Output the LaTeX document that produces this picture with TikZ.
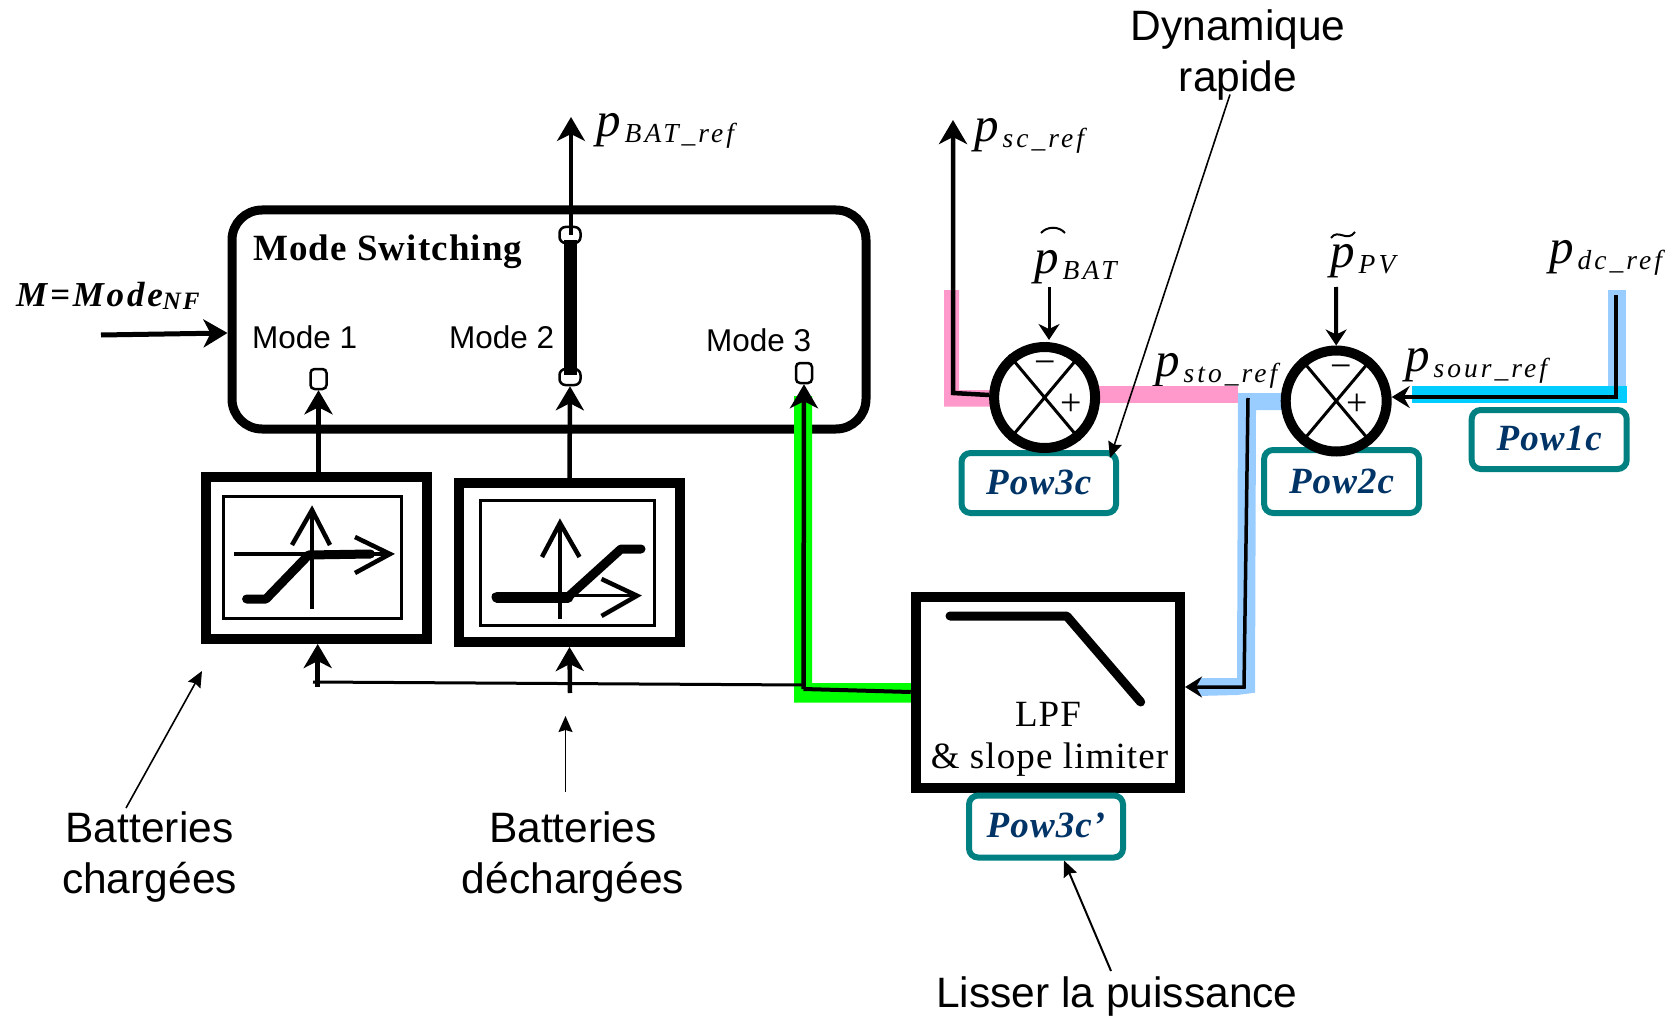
\documentclass[tikz,border=0pt]{standalone}
\usepackage{fontspec}
\usetikzlibrary{arrows.meta}
\setmainfont{Liberation Serif}
\newfontfamily\sansf{Liberation Sans}
\newfontfamily\spf[LetterSpace=3]{Liberation Serif}
\newfontfamily\subf[LetterSpace=11]{Liberation Serif}
\newcommand\psym[1]{{\fontsize{49}{49}\selectfont\itshape p}\kern4pt\raisebox{-6pt}{\fontsize{27.5}{27.5}\selectfont\subf\itshape #1}}
\definecolor{pinkbar}{HTML}{FF99CC}
\definecolor{bluebar}{HTML}{99CCFF}
\definecolor{cyanbar}{HTML}{00CCFF}
\definecolor{greenbar}{HTML}{00FF00}
\definecolor{tealbox}{HTML}{008080}
\definecolor{navytxt}{HTML}{003366}
\tikzset{
  x=1pt,y=-1pt,
  inbox/.style={draw,line width=3pt,inner sep=0pt},
  powbox/.style={draw=tealbox,line width=6pt,rounded corners=9pt,inner sep=0pt,text=navytxt,
     font=\fontsize{37}{37}\selectfont\spf\bfseries\itshape},
  port/.style={draw,fill=white,line width=2.5pt,inner sep=0pt,rounded corners=4pt,minimum width=16pt,minimum height=20pt},
  portb/.style={draw,fill=white,line width=2.5pt,inner sep=0pt,rounded corners=6pt,minimum width=21pt,minimum height=16pt},
  sumnode/.style={draw,fill=white,circle,line width=10pt,inner sep=0pt,minimum size=101pt},
  lbl/.style={anchor=base west,inner sep=0pt},
  sanslbl/.style={inner sep=0pt,font=\fontsize{31.5}{31.5}\selectfont\sansf,anchor=base west},
  note/.style={inner sep=0pt,align=center,font=\fontsize{42.5}{51}\selectfont\sansf},
  bigarrow/.style={-{Stealth[length=24pt,width=28pt,inset=7pt]},line width=4.5pt},
  smallarrow/.style={-{Stealth[length=16pt,width=21pt,inset=5pt]},line width=3.5pt},
  notearrow/.style={-{Stealth[length=16pt,width=14pt,inset=2pt]},line width=1.6pt},
  openhead/.style={line width=4.5pt},
  curve/.style={line width=9pt,line cap=round,line join=round},
}
\begin{document}
\begin{tikzpicture}
\useasboundingbox (0,0) rectangle (1673,1019);

% text that the coloured bars cover
\node[lbl] (lsto) at (1155,376) {\psym{sto\_ref}};

% Mode switching box
\node[draw,line width=9pt,rounded corners=30pt,minimum width=634pt,minimum height=219pt,inner sep=0pt] (mode) at (549,319.5) {};

% coloured bars
\fill[bluebar] (1608,290) rectangle (1626,403);
\fill[cyanbar] (1412,386) rectangle (1627,403);
\fill[pinkbar] (944,290) -- (959,290) -- (959,390) -- (995,390) -- (995,406.7) -- (944,406.7) -- cycle;
\fill[pinkbar] (1094,386) rectangle (1238,403);
\fill[bluebar] (1238,393) -- (1286,393) -- (1286,410) -- (1256,410) -- (1255,692.7) -- (1237,695) -- (1198,696) -- (1198,678) -- (1237,678) -- cycle;
\fill[greenbar] (794,396) -- (812,396) -- (812,683) -- (915,683) -- (915,702.7) -- (794,702.7) -- cycle;

% Limiter blocks
\node[draw,line width=10pt,minimum width=221pt,minimum height=162pt,inner sep=0pt] (blockA) at (316.2,557.9) {};
\node[inbox,minimum width=178pt,minimum height=122pt] (innerA) at (312.5,557.5) {};
\node[draw,line width=10pt,minimum width=221pt,minimum height=159pt,inner sep=0pt] (blockB) at (569.5,562.5) {};
\node[inbox,minimum width=174pt,minimum height=125pt] (innerB) at (567.5,562.7) {};

% block A symbol
\draw[line width=3.5pt] (234,554) -- (388,554);
\draw[line width=4pt] (312,609) -- (312,512);
\draw[openhead] (292,545) -- (312,510) -- (330,545);
\draw[openhead] (355,537) -- (390,554) -- (355,573);
\draw[curve] (246.6,599) -- (266,599) -- (308.5,555) -- (370.5,554);

% block B symbol
\draw[line width=3.5pt] (492,595.7) -- (635,595.7);
\draw[line width=4pt] (560,619) -- (560,525);
\draw[openhead] (542,557) -- (560,523) -- (579.5,557);
\draw[openhead] (601.5,579) -- (637,595.7) -- (601.5,616);
\draw[line width=11pt,line cap=round] (497,597) -- (568,597);
\draw[curve] (568,597) -- (621,549) -- (641,549);

% LPF block
\node[draw,line width=10pt,minimum width=264.3pt,minimum height=191pt,inner sep=0pt] (lpf) at (1047.9,692.3) {};
\draw[curve] (950,616) -- (1066.7,616) -- (1140.7,702);
\node[inner sep=0pt,anchor=base,font=\fontsize{37}{37}\selectfont\spf] (tlpf) at (1048,726) {LPF};
\node[inner sep=0pt,anchor=base,font=\fontsize{37}{37}\selectfont\spf] (tslope) at (1049.5,768) {\& slope limiter};

% teal boxes
\node[powbox,minimum width=154.5pt,minimum height=60pt] (pow3) at (1038.8,483) {\raisebox{2pt}{Pow3c}};
\node[powbox,minimum width=155pt,minimum height=63pt] (pow2) at (1341.6,481.5) {\raisebox{1pt}{Pow2c}};
\node[powbox,minimum width=155pt,minimum height=59pt] (pow1) at (1549.2,439.5) {\raisebox{2pt}{Pow1c}};
\node[powbox,minimum width=154pt,minimum height=62pt] (pow3p) at (1046,826.5) {\raisebox{3pt}{Pow3c’}};

% sum nodes
\node[sumnode] (s1) at (1044.6,397.5) {};
\draw[line width=3pt] (s1.50) -- (s1.230) (s1.130) -- (s1.310);
\node[inner sep=0pt,font=\fontsize{38}{38}\selectfont] (s1m) at (1045.5,368) {−};
\node[inner sep=0pt,font=\fontsize{38}{38}\selectfont] (s1p) at (1071,405) {+};
\node[sumnode] (s2) at (1336.2,401) {};
\draw[line width=3pt] (s2.50) -- (s2.230) (s2.130) -- (s2.310);
\node[inner sep=0pt,font=\fontsize{38}{38}\selectfont] (s2m) at (1341,372) {−};
\node[inner sep=0pt,font=\fontsize{38}{38}\selectfont] (s2p) at (1357,405) {+};

% ports
\node[port] (p1) at (318.5,379) {};
\node[portb] (p2b) at (570,377) {};
\node[portb] (p2t) at (570,235) {};
\node[port] (p3) at (804,373) {};

% labels
\node[inner sep=0pt,anchor=base west,font=\fontsize{37}{37}\selectfont\spf\bfseries] (tmode) at (253,260) {Mode Switching};
\node[sanslbl] (m1) at (252,348) {Mode 1};
\node[sanslbl] (m2) at (449,348) {Mode 2};
\node[sanslbl] (m3) at (706,351) {Mode 3};
\node[lbl,font=\fontsize{35}{35}\selectfont\bfseries\itshape] (tM) at (16,306.7) {\addfontfeature{LetterSpace=8}M=Mode\raisebox{-3pt}{\fontsize{25}{25}\selectfont NF}};
\node[lbl] (lbat) at (596,137) {\psym{BAT\_ref}};
\node[lbl] (lsc) at (974,142) {\psym{sc\_ref}};
\node[lbl] (lb) at (1034,273.7) {\psym{BAT}};
\node[lbl] (lpv) at (1330,267) {\psym{PV}};
\node[lbl] (ldc) at (1549,263.7) {\psym{dc\_ref}};
\node[lbl] (lsour) at (1405,371) {\psym{sour\_ref}};
\draw[line width=2pt] (1041,233) .. controls (1047,226) and (1059,226) .. (1065,233);
\draw[line width=2pt] (1331,238) .. controls (1338,228) and (1347,243) .. (1355,232);

\node[note] (nchar) at (149.5,857) {Batteries\\chargées};
\node[note] (ndech) at (573,857) {Batteries\\déchargées};
\node[note] (ndyn) at (1238,55) {Dynamique\\rapide};
\node[note] (nliss) at (1117,997) {Lisser la puissance};

% free ends
\coordinate (mstart) at (101,335);
\coordinate (bat) at (571,117);
\coordinate (sc) at (953,120);
\coordinate (sccorner) at (953,393);
\coordinate (pbin) at (1049,287);
\coordinate (ppin) at (1336,287);
\coordinate (dctop) at (1616,295);
\coordinate (dccorner) at (1616,397);
\coordinate (stotop) at (1248,398);
\coordinate (stocorner) at (1244,687);
\coordinate (jgreen) at (803.5,689);
\coordinate (tipchar) at (202,671);
\coordinate (tipdech) at (565.5,716);

% black connectors
\draw[line width=5pt,-{Stealth[length=24pt,width=28pt,inset=7pt]}] (mstart) -- (mode.west |- 0,333);
\draw[bigarrow,line width=3.5pt] (p2t.center -| bat) -- (bat);
\draw[line width=13pt,shorten >=-7pt,shorten <=-4pt] (p2t.south) -- (p2b.north);
\draw[bigarrow] (p1 |- blockA.north) ++(0,10) -- (p1.south);
\draw[bigarrow] (569.5,480) -- (p2b.south);
\draw[bigarrow] (jgreen) -- (p3.south);
\draw[line width=4pt] (jgreen) -- (lpf.west |- 0,692);
\draw[line width=3pt] (jgreen |- 0,685) -- (313,682);
\draw[bigarrow] (317.7,687) -- (317.7,644);
\draw[bigarrow] (570,693) -- (blockB.south);
\draw[bigarrow] (s1.west |- 0,395) -- (sccorner) -- (sc);
\draw[smallarrow,line width=3pt] (pbin) -- (1049,340);
\draw[smallarrow,line width=4pt] (ppin) -- (s2.north);
\draw[-{Stealth[length=18pt,width=22pt,inset=6pt]},line width=3.5pt] (dctop) -- (dccorner) -- (s2.east |- dccorner);
\draw[-{Stealth[length=17pt,width=21pt,inset=6pt]},line width=3.5pt] (stotop) -- (stocorner) -- (lpf.east |- stocorner);

% annotation arrows
\draw[notearrow] (ndyn.south) ++(-8,-6) -- (1110,458);
\draw[notearrow] (126,808) -- (tipchar);
\draw[notearrow] (565.5,792) -- (tipdech);
\draw[notearrow,line width=2pt] (1111,971) -- (pow3p.south -| 1064,0);
\end{tikzpicture}
\end{document}
